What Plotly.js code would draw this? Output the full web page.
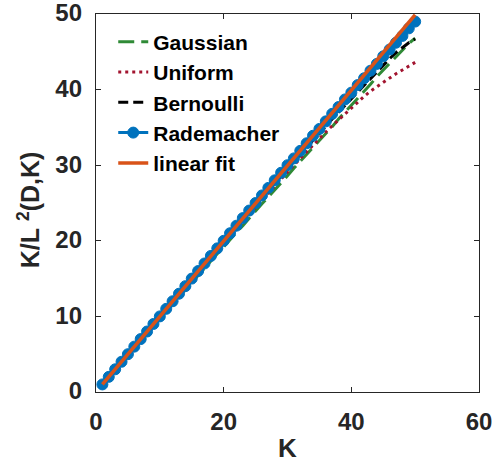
<!DOCTYPE html>
<html>
<head>
<meta charset="utf-8">
<script src="https://cdn.plot.ly/plotly-3.0.1.min.js"></script>
<style>html,body{margin:0;padding:0;background:#fff;}#chart{width:495px;height:463px;}</style>
</head>
<body>
<div id="chart"></div>
<script>
const K = [1,2,3,4,5,6,7,8,9,10,11,12,13,14,15,16,17,18,19,20,21,22,23,24,25,26,27,28,29,30,31,32,33,34,35,36,37,38,39,40,41,42,43,44,45,46,47,48,49,50];
const gaussian = [1.0,2.0,3.0,3.9,4.9,5.9,6.9,7.8,8.8,9.7,10.7,11.6,12.6,13.5,14.5,15.4,16.4,17.3,18.3,19.2,20.2,21.1,22.0,23.0,23.9,24.9,25.8,26.7,27.7,28.6,29.6,30.5,31.4,32.4,33.3,34.2,35.1,36.1,37.0,37.9,38.9,39.8,40.7,41.7,42.6,43.5,44.4,45.3,46.1,46.8];
const uniform = [1.0,2.0,3.0,4.0,5.0,6.0,7.0,7.9,8.9,9.9,10.9,11.9,12.9,13.8,14.8,15.8,16.8,17.7,18.7,19.7,20.6,21.6,22.5,23.5,24.4,25.4,26.3,27.2,28.2,29.1,30.0,30.9,31.8,32.7,33.5,34.4,35.2,36.0,36.8,37.6,38.4,39.1,39.8,40.4,41.0,41.6,42.1,42.6,43.1,43.6];
const bernoulli = [1.0,2.0,3.0,4.0,5.0,6.0,7.0,8.0,9.0,10.0,11.0,12.0,12.9,13.9,14.9,15.9,16.9,17.9,18.9,19.8,20.8,21.8,22.8,23.8,24.7,25.7,26.7,27.6,28.6,29.5,30.5,31.4,32.4,33.3,34.2,35.2,36.1,37.0,37.9,38.8,39.7,40.6,41.5,42.4,43.2,44.1,44.9,45.6,46.2,46.7];
const rademacher = [1.0,2.0,3.0,4.0,5.0,6.0,7.0,8.0,9.0,10.0,11.0,12.0,13.0,14.0,15.0,16.0,17.0,18.0,19.0,20.0,21.0,22.0,23.0,24.0,25.0,26.0,27.0,28.0,29.0,30.0,30.9,31.9,32.9,33.9,34.8,35.8,36.8,37.7,38.7,39.6,40.6,41.5,42.5,43.4,44.4,45.3,46.2,47.1,48.1,49.0];
const fitK = [1, 50];
const fitY = [1.0, 49.9];
const seriesNames = ['Gaussian','Uniform','Bernoulli','Rademacher','linear fit'];
const xTicks = [0,20,40,60];
const yTicks = [0,10,20,30,40,50];

const traces = [
  {x:K, y:gaussian, name:seriesNames[0], mode:'lines', line:{color:'#2F8A36', width:3, dash:'16px,7px'}},
  {x:K, y:uniform, name:seriesNames[1], mode:'lines', line:{color:'#A2142F', width:3, dash:'3px,4px'}},
  {x:K, y:bernoulli, name:seriesNames[2], mode:'lines', line:{color:'#000000', width:3, dash:'10px,5px'}},
  {x:K, y:rademacher, name:seriesNames[3], mode:'lines+markers', line:{color:'#0072BD', width:3}, marker:{symbol:'circle', size:11, color:'#0072BD', line:{color:'#0072BD', width:1}}},
  {x:fitK, y:fitY, name:seriesNames[4], mode:'lines', line:{color:'#D95319', width:3.5}}
];

const FAM = 'Liberation Sans, Arial, sans-serif';
const axisFont = {family:FAM, size:24, color:'#262626', weight:'bold'};
const layout = {
  width:495, height:463,
  margin:{l:96, r:16, t:14, b:71},
  paper_bgcolor:'#fff', plot_bgcolor:'#fff',
  showlegend:true,
  legend:{x:0.045, y:0.98, xanchor:'left', yanchor:'top', bgcolor:'rgba(0,0,0,0)', borderwidth:0,
          font:{family:FAM, size:21, color:'#000', weight:'bold'}},
  xaxis:{range:[-0.001,60.001], tickvals:xTicks, ticktext:xTicks.map(String), ticks:'inside', ticklen:5, tickcolor:'#262626',
         showline:true, mirror:'ticks', linecolor:'#262626', linewidth:1.2, showgrid:false, zeroline:false,
         tickfont:axisFont, ticklabelstandoff:8, ticklabeloverflow:'allow',
         title:{text:'K', font:{family:FAM, size:26, color:'#262626', weight:'bold'}, standoff:4}},
  yaxis:{range:[-0.001,50.001], tickvals:yTicks, ticktext:yTicks.map(String), ticks:'inside', ticklen:5, tickcolor:'#262626',
         showline:true, mirror:'ticks', linecolor:'#262626', linewidth:1.2, showgrid:false, zeroline:false,
         tickfont:axisFont, ticklabelstandoff:8, ticklabelshift:-1, ticklabeloverflow:'allow',
         title:{text:'K/L&nbsp;<sup>2</sup>(D,K)&nbsp;&nbsp;', font:{family:FAM, size:25, color:'#262626', weight:'bold'}, standoff:8}}
};
Plotly.newPlot('chart', traces, layout, {displayModeBar:false, staticPlot:true});
</script>
</body>
</html>
